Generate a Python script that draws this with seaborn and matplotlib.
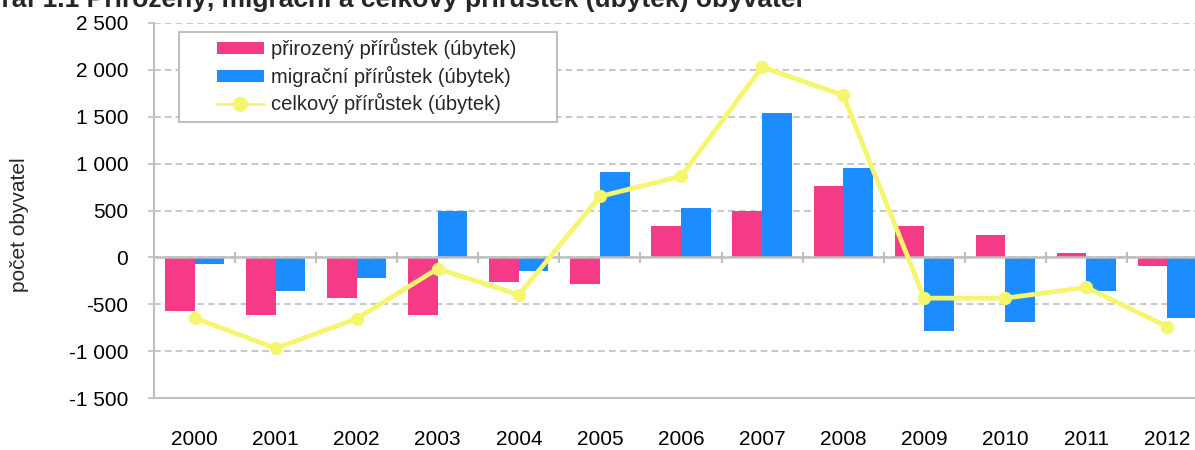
import numpy as np
import pandas as pd
import matplotlib
matplotlib.use("Agg")
import matplotlib.pyplot as plt
from matplotlib.ticker import FuncFormatter, MultipleLocator
from matplotlib.patches import Patch, Rectangle
from matplotlib.lines import Line2D
import seaborn as sns

years = ["2000", "2001", "2002", "2003", "2004", "2005", "2006",
         "2007", "2008", "2009", "2010", "2011", "2012"]
natural = [-570, -610, -430, -610, -265, -280, 335, 490, 760, 335, 240, 45, -90]
migration = [-70, -360, -220, 490, -150, 915, 530, 1540, 955, -785, -690, -360, -650]
total = [-645, -970, -655, -120, -400, 650, 865, 2030, 1730, -435, -435, -320, -740]

lab_nat = "přirozený přírůstek (úbytek)"
lab_mig = "migrační přírůstek (úbytek)"
lab_tot = "celkový přírůstek (úbytek)"
title = "Graf 1.1 Přirozený, migrační a celkový přírůstek (úbytek) obyvatel"
ylabel = "počet obyvatel"

c_nat = "#F53A88"
c_mig = "#1B8DFF"
c_tot = "#F6F56E"
grey = "#BFBFBF"

sns.set_theme(style="white")
plt.rcParams["font.family"] = ["Liberation Sans", "DejaVu Sans"]

df = pd.DataFrame({
    "year": years * 2,
    "value": natural + migration,
    "series": [lab_nat] * len(years) + [lab_mig] * len(years),
})

fig = plt.figure(figsize=(11.95, 4.5), dpi=100)
ax = fig.add_axes([154 / 1195, 52 / 450, 1054 / 1195, 375 / 450])

sns.barplot(data=df, x="year", y="value", hue="series", order=years,
            hue_order=[lab_nat, lab_mig], palette=[c_nat, c_mig],
            width=0.73, linewidth=0, saturation=1, ax=ax, legend=False, zorder=2)

ax.plot(np.arange(len(years)), total, color=c_tot, lw=3.4, marker="o",
        markersize=8.5, zorder=4, solid_capstyle="round")

ax.set_xlim(-0.5, len(years) - 0.5)
ax.set_ylim(-1500, 2500)
ax.yaxis.set_major_locator(MultipleLocator(500))
ax.yaxis.set_major_formatter(FuncFormatter(
    lambda v, p: f"{int(v):,}".replace(",", " ") if abs(v) >= 1000 else f"{int(v)}"))

ax.grid(axis="y", color=grey, linestyle=(0, (4, 2.5)), lw=1.2, zorder=0)
ax.set_axisbelow(True)
ax.axhline(0, color=grey, lw=1.8, zorder=3)
ax.vlines(np.arange(-0.5, len(years)), -55, 55, color=grey, lw=1.5, zorder=3)

for s in ["top", "right"]:
    ax.spines[s].set_visible(False)
for s in ["left", "bottom"]:
    ax.spines[s].set_color(grey)
    ax.spines[s].set_linewidth(1.5)

ax.tick_params(axis="y", left=True, length=4.5, width=1.2, color=grey,
               pad=14, labelsize=15, labelcolor="black")
ax.tick_params(axis="x", bottom=False, pad=17, labelsize=15, labelcolor="black")
ax.set_xlabel("")
ax.set_ylabel("")

fig.text(20 / 1195, 1 - 225 / 450, ylabel, rotation=90, ha="center",
         va="center", fontsize=15)

fig.text(-19 / 1195, 1 - 6.5 / 450, title, ha="left", va="baseline",
         fontsize=19, fontweight="bold")

handles = [Patch(facecolor=c_nat, edgecolor="none"),
           Patch(facecolor=c_mig, edgecolor="none"),
           Line2D([0], [0], color=c_tot, lw=2, marker="o", markersize=10)]
leg = fig.legend(handles, [lab_nat, lab_mig, lab_tot], loc="upper left",
                 bbox_to_anchor=(217 / 1195, 1 - 38 / 450),
                 bbox_transform=fig.transFigure, frameon=False,
                 fontsize=14.5, handlelength=2.33, handleheight=0.55,
                 handletextpad=0.35, labelspacing=0.33, borderpad=0,
                 borderaxespad=0)
fig.patches.append(Rectangle((179 / 1195, 1 - 122 / 450), 378 / 1195, 90 / 450,
                             transform=fig.transFigure, facecolor="white",
                             edgecolor=grey, lw=1.5, zorder=5))
leg.set_zorder(6)

fig.savefig("out.png", dpi=100)
